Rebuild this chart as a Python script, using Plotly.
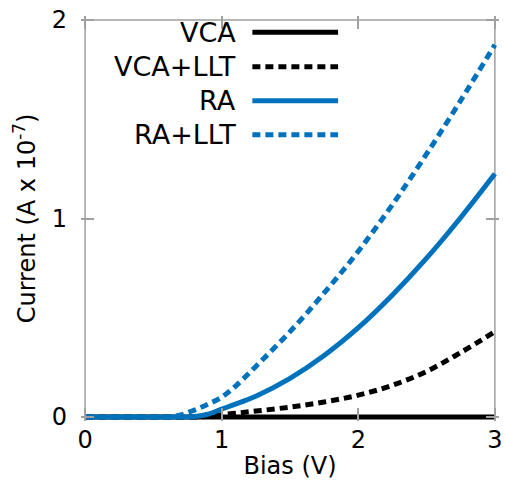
import plotly.graph_objects as go

# Bias voltage (V) and currents (units of 1e-7 A)
bias = [0.0, 0.25, 0.5, 0.6, 0.7, 0.8, 0.9, 1.0, 1.1, 1.25, 1.5, 1.75, 2.0, 2.25, 2.5, 2.75, 3.0]
vca = [0.0, 0.0, 0.0, 0.0, 0.0, 0.0, 0.0, 0.0, 0.0, 0.0, 0.0, 0.0, 0.0, 0.0, 0.0, 0.0, 0.0]
vca_llt = [0.0, 0.0, 0.0, 0.0, 0.0, 0.0, 0.004, 0.012, 0.019, 0.03, 0.05, 0.076, 0.11, 0.16, 0.23, 0.325, 0.43]
ra = [0.0, 0.0, 0.0, 0.0, 0.0, 0.003, 0.014, 0.04, 0.065, 0.105, 0.195, 0.31, 0.45, 0.615, 0.80, 1.005, 1.225]
ra_llt = [0.0, 0.0, 0.0, 0.0, 0.01, 0.035, 0.065, 0.10, 0.155, 0.255, 0.43, 0.625, 0.835, 1.07, 1.325, 1.595, 1.875]

names = ["VCA", "VCA+LLT", "RA", "RA+LLT"]
series = [vca, vca_llt, ra, ra_llt]
colors = ["#000000", "#000000", "#0072bd", "#0072bd"]
dashes = ["solid", "8px,5px", "solid", "8px,5px"]

FONT = "DejaVu Sans"
FRAME = "#a0a0a0"
LW = 5

X_RANGE = [0, 3]
Y_RANGE = [0, 2]
# small padding so the thick curves are not clipped at the frame
XPAD = 0.03
YPAD = 0.02

fig = go.Figure()

# Plot frame on the data limits, beneath the curves
fig.add_shape(
    type="rect", xref="x", yref="y",
    x0=X_RANGE[0], x1=X_RANGE[1], y0=Y_RANGE[0], y1=Y_RANGE[1],
    line=dict(color=FRAME, width=1.5), layer="below",
)

for name, ys, col, dash in zip(names, series, colors, dashes):
    fig.add_trace(go.Scatter(
        x=bias, y=ys, mode="lines", name=name,
        line=dict(color=col, width=LW, dash=dash, shape="spline", smoothing=1.0),
        showlegend=False,
    ))

# Legend: right-aligned labels with line samples to their right
row_y = [0.960, 0.875, 0.791, 0.707]
for name, col, dash, yy in zip(names, colors, dashes, row_y):
    fig.add_annotation(
        x=0.375, y=yy, xref="paper", yref="paper", text=name, showarrow=False,
        xanchor="right", yanchor="middle", font=dict(family=FONT, size=27, color="#000000"),
    )
    fig.add_shape(
        type="line", xref="paper", yref="paper", x0=0.410, x1=0.615, y0=yy, y1=yy,
        line=dict(color=col, width=LW, dash=dash),
    )

axis_common = dict(
    showline=False, mirror="ticks", automargin=False,
    ticks="inside", ticklen=13, tickcolor=FRAME, tickwidth=1.5,
    showgrid=False, zeroline=False,
    tickfont=dict(family=FONT, size=24, color="#000000"),
)

fig.update_xaxes(
    range=[X_RANGE[0] - XPAD, X_RANGE[1] + XPAD],
    tickvals=[0, 1, 2, 3], ticktext=["0", "1", "2", "3"],
    ticklabelstandoff=2,
    title=dict(text="Bias (V)", font=dict(family=FONT, size=24, color="#000000"), standoff=4),
    **axis_common,
)
fig.update_yaxes(
    range=[Y_RANGE[0] - YPAD, Y_RANGE[1] + YPAD],
    tickvals=[0, 1, 2], ticktext=["0", "1", "2"],
    ticklabelstandoff=13,
    title=dict(text="Current (A x 10<sup>-7</sup>)", font=dict(family=FONT, size=24, color="#000000"), standoff=9),
    **axis_common,
)

fig.update_layout(
    width=506, height=482,
    margin=dict(l=81, r=7, t=16, b=61),
    paper_bgcolor="#ffffff", plot_bgcolor="#ffffff",
    font=dict(family=FONT),
)

fig.write_html("out.html")
